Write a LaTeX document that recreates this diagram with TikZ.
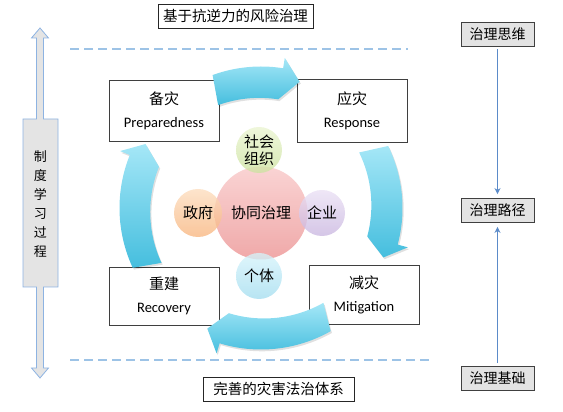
\documentclass[tikz,border=0pt]{standalone}
\usepackage{fontspec}
\setmainfont{Carlito}
\newfontfamily\cjk{Noto Sans CJK SC}
\usetikzlibrary{arrows.meta}
\definecolor{boxgray}{HTML}{3F3F3F}
\definecolor{dashblue}{HTML}{9DC3E6}
\definecolor{dblborder}{HTML}{8DB3E2}
\definecolor{dblfill}{HTML}{E4E4E4}
\definecolor{levelfill}{HTML}{E3E3E3}
\definecolor{levelarrow}{HTML}{5B8BC9}
\definecolor{cyanlight}{HTML}{A5E7F7}
\definecolor{cyandark}{HTML}{45BEDE}
\definecolor{pinkA}{HTML}{F9CFCF}
\definecolor{pinkB}{HTML}{EE9F9F}
\definecolor{greenA}{HTML}{EAF4D0}
\definecolor{greenB}{HTML}{CCE2A0}
\definecolor{orangeA}{HTML}{FCDDBE}
\definecolor{orangeB}{HTML}{F8B57E}
\definecolor{purpleA}{HTML}{EAE0F4}
\definecolor{purpleB}{HTML}{C9B6E0}
\definecolor{blueA}{HTML}{D6F3FB}
\definecolor{blueB}{HTML}{A3DDEF}
\newcommand{\ringarrow}[3]{%
  \fill[black,opacity=0.12,shift={(1.2,-1.8)}] (#1:141.5) arc[start angle=#1, end angle=#2, radius=141.5]
    -- (#2:152) -- (#3:132) -- (#2:110) arc[start angle=#2, end angle=#1, radius=120.5] -- cycle;
  \shade[top color=cyanlight, bottom color=cyandark] (#1:141.5) arc[start angle=#1, end angle=#2, radius=141.5]
    -- (#2:152) -- (#3:132) -- (#2:110) arc[start angle=#2, end angle=#1, radius=120.5] -- cycle;}
\begin{document}
\begin{tikzpicture}[x=1pt,y=1pt,
  stagebox/.style={draw=boxgray, fill=white, line width=0.9pt, minimum width=110pt, align=center, inner sep=0pt, font=\fontsize{14.5}{23}\selectfont},
  titlebox/.style={draw=black!85, fill=white, line width=0.8pt, minimum height=24pt, inner sep=0pt, font=\cjk\fontsize{14.5}{16}\selectfont},
  levelbox/.style={draw=black!75, fill=levelfill, line width=0.9pt, minimum width=73pt, minimum height=24pt, inner sep=0pt, font=\cjk\fontsize{14}{16}\selectfont},
  actor/.style={circle, inner sep=0pt, fill opacity=0.78, text opacity=1, align=center, font=\cjk\fontsize{15}{17}\selectfont},
  dashline/.style={draw=dashblue, line width=1.3pt, dash pattern=on 9pt off 5pt},
  levelline/.style={draw=levelarrow, line width=1.5pt, -{Stealth[length=6pt,width=6pt]}}
]
\useasboundingbox (0,0) rectangle (563,412);

% titles
\node[titlebox, minimum width=155pt] (toptitle) at (235.5,396) {基于抗逆力的风险治理};
\node[titlebox, minimum width=151pt] (bottitle) at (278.5,23) {完善的灾害法治体系};

% dashed lines
\coordinate (dtl) at (70,363);
\coordinate (dtr) at (408,363);
\coordinate (dbl) at (70,52);
\coordinate (dbr) at (430,52);
\draw[dashline] (dtl) -- (dtr);
\draw[dashline] (dbl) -- (dbr);

% left double arrow
\draw[draw=dblborder, fill=dblfill, line width=0.8pt]
  (40,384) -- (48.5,374) -- (43.5,374) -- (43.5,293) -- (58,293) -- (58,125) -- (43.5,125)
  -- (43.5,44) -- (48.5,44) -- (40,34) -- (31.5,44) -- (36.5,44) -- (36.5,125) -- (23,125)
  -- (23,293) -- (36.5,293) -- (36.5,374) -- (31.5,374) -- cycle;
\node[align=center, inner sep=0pt, font=\cjk\fontsize{13}{19}\selectfont] (learn) at (40.5,207.5)
  {制\\度\\学\\习\\过\\程};

% right level boxes
\node[levelbox] (think) at (497.5,378) {治理思维};
\node[levelbox] (route) at (497.5,201.5) {治理路径};
\node[levelbox] (base) at (497.5,33.5) {治理基础};
\draw[levelline, shorten <=3pt, shorten >=4pt] (think.south) -- (route.north);
\draw[levelline, shorten <=3pt, shorten >=4pt] (base.north) -- (route.south);

% stage boxes
\node[stagebox, minimum height=61pt] (prep) at (164,301.5) {{\cjk\fontsize{15}{23}\selectfont 备灾}\\Preparedness};
\node[stagebox, minimum height=63pt] (resp) at (352,301.5) {{\cjk\fontsize{15}{23}\selectfont 应灾}\\Response};
\node[stagebox, minimum height=58pt] (reco) at (164,116) {{\cjk\fontsize{15}{23}\selectfont 重建}\\Recovery};
\node[stagebox, minimum height=59pt] (miti) at (364,117.5) {{\cjk\fontsize{15}{23}\selectfont 减灾}\\Mitigation};

% cycle arrows
\begin{scope}[shift={(261,204)}]
  \ringarrow{110}{81}{73}
  \ringarrow{26}{-15}{-22}
  \ringarrow{-60.5}{-107}{-114}
  \ringarrow{205}{158}{151}
\end{scope}

% central circles
\node[actor, minimum size=93pt, top color=pinkA, bottom color=pinkB, fill opacity=0.9] (core) at (261,199) {协同治理};
\node[actor, minimum size=46pt, top color=greenA, bottom color=greenB] (ngo) at (259,262) {社会\\组织};
\node[actor, minimum size=48pt, top color=orangeA, bottom color=orangeB] (gov) at (198,199) {政府};
\node[actor, minimum size=46pt, top color=purpleA, bottom color=purpleB] (firm) at (322,199) {企业};
\node[actor, minimum size=46pt, top color=blueA, bottom color=blueB] (indiv) at (259,136) {个体};
\end{tikzpicture}
\end{document}
